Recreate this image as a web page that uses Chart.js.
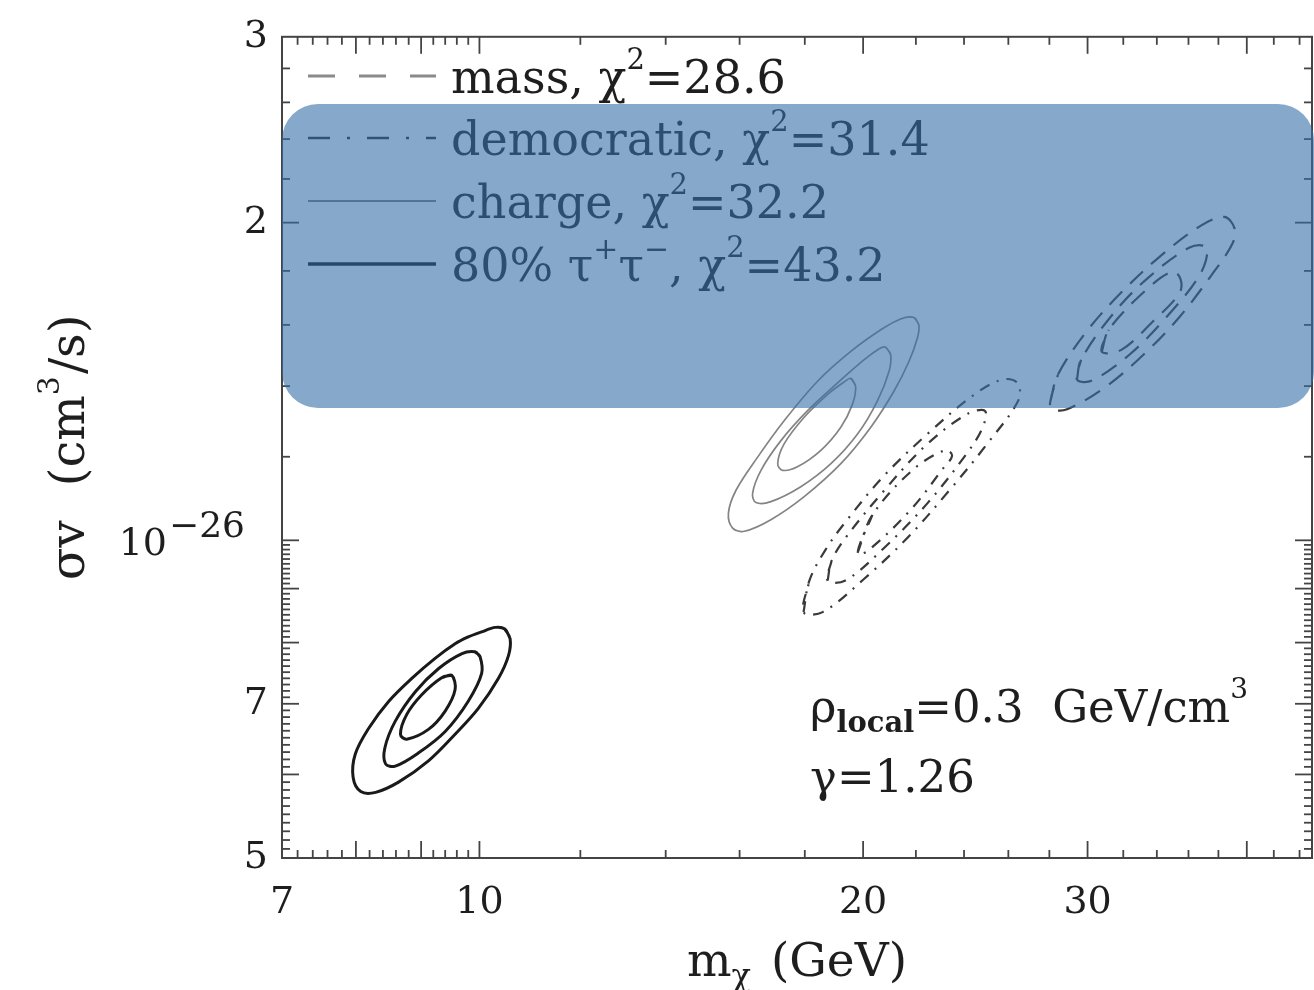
<!DOCTYPE html>
<html>
<head>
<meta charset="utf-8">
<script src="https://cdn.jsdelivr.net/npm/chart.js@4.4.1/dist/chart.umd.min.js"></script>
<style>
  html, body { margin: 0; padding: 0; background: #ffffff; }
  #wrap { width: 1314px; height: 990px; position: relative; }
</style>
</head>
<body>
<div id="wrap"><canvas id="c" width="1314" height="990"></canvas></div>
<script>
// ---------------- data (x: m_chi in GeV, y: sigma v in units of 1e-27 cm^3/s) ----------------
const Y_UNIT = 1e-27;

// 80% tau+tau- contours
const tauOuterX = [10.57,10.47,10.29,10.04,9.80,9.57,9.23,8.85,8.49,8.19,7.99,7.96,8.07,8.29,8.64,9.12,9.57,9.98,10.35,10.54];
const tauOuterY = [8.07,8.24,8.27,8.19,8.10,7.98,7.73,7.40,7.04,6.64,6.27,5.96,5.78,5.77,5.90,6.18,6.55,6.93,7.40,7.78];
const tauMidX = [10.01,9.92,9.69,9.29,8.91,8.59,8.43,8.44,8.59,8.96,9.40,9.80,10.04];
const tauMidY = [7.76,7.84,7.81,7.56,7.19,6.74,6.36,6.14,6.11,6.29,6.59,7.04,7.48];
const tauInnerX = [9.51,9.34,9.01,8.77,8.67,8.77,9.12,9.40,9.57];
const tauInnerY = [7.45,7.41,7.14,6.84,6.55,6.48,6.62,6.89,7.22];

// charge contours
const chargeOuterX = [21.93,22.12,22.06,21.73,21.15,20.28,19.21,17.98,16.93,16.14,15.80,15.68,15.90,16.53,17.34,18.42,19.56,20.65,21.40];
const chargeOuterY = [16.26,16.00,15.55,14.78,13.85,12.80,11.82,11.00,10.46,10.20,10.27,10.61,11.16,11.99,12.98,14.15,15.10,15.83,16.21];
const chargeMidX = [20.83,21.02,20.96,20.52,19.80,18.87,17.87,16.93,16.48,16.38,16.63,17.24,18.09,19.10,20.04,20.59];
const chargeMidY = [15.24,15.00,14.46,13.55,12.61,11.82,11.24,10.88,10.86,11.08,11.65,12.43,13.27,14.10,14.83,15.19];
const chargeInnerX = [19.56,19.73,19.62,19.21,18.53,17.76,17.29,17.14,17.34,17.98,18.76,19.33];
const chargeInnerY = [14.24,14.00,13.46,12.80,12.17,11.74,11.65,11.82,12.34,13.08,13.75,14.13];

// democratic contours
const demOuterX = [17.96,18.15,18.69,19.34,20.71,22.46,24.40,25.70,26.41,26.50,25.02,23.37,21.66,20.01,18.59];
const demOuterY = [8.55,9.16,9.80,10.38,11.47,12.61,13.72,14.20,14.11,13.60,12.34,11.15,10.05,9.18,8.55];
const demMidX = [18.76,18.89,19.37,20.75,22.38,24.13,24.93,24.79,24.05,22.46,20.78,19.37];
const demMidY = [9.16,9.56,10.05,11.13,12.29,13.17,13.26,12.75,12.03,10.84,9.84,9.16];
const demInnerX = [19.80,20.34,21.86,23.20,23.49,23.11,21.78,20.16];
const demInnerY = [9.73,10.57,11.65,12.18,12.03,11.70,10.68,9.77];

// mass contours
const massOuterX = [28.04,28.44,29.97,31.85,34.11,36.79,38.41,39.11,38.97,37.52,35.42,33.20,30.95,28.91,28.14];
const massOuterY = [13.52,14.36,15.79,17.15,18.53,19.86,20.25,19.77,19.10,17.83,16.28,15.00,13.96,13.31,13.31];
const massMidX = [29.43,29.65,31.45,33.50,36.07,37.19,36.79,34.60,32.37,30.24];
const massMidY = [14.20,14.83,16.42,17.75,18.94,18.94,17.90,16.28,15.00,14.17];
const massInnerX = [30.78,31.17,33.26,34.98,35.49,35.42,33.74,31.91];
const massInnerY = [15.09,15.83,17.22,17.98,17.67,17.15,16.11,15.16];

// legend entries
const legendLabels = ['mass', 'democratic', 'charge', '80% τ⁺τ⁻'];
const legendChi2 = ['28.6', '31.4', '32.2', '43.2'];

// axis ticks
const xTickValues = [7, 10, 20, 30];
const xTickLabels = ['7', '10', '20', '30'];
const xLongTicks = [8, 9, 10, 20, 30, 40];
const yTickValues = [5e-27, 7e-27, 1e-26, 2e-26, 3e-26];
const yTickLabels = ['5', '7', '10^-26', '2', '3'];
const yLongTicks = [6e-27, 7e-27, 8e-27, 9e-27, 1e-26, 2e-26];

// ---------------- helpers ----------------
const SERIF = "'DejaVu Serif', 'Liberation Serif', serif";

function minorX() {
  const t = [];
  for (let i = 36; i < 50; i++) { if (i % 5) t.push(i / 5); }        // 7.2 ... 9.8
  for (let v = 12; v <= 44; v += 2) { if (v % 10) t.push(v); }
  return t;
}
function minorY() {
  const t = [];
  for (let i = 51; i < 100; i++) { if (i % 10) t.push(i / 10 * Y_UNIT); }
  for (let v = 12; v <= 28; v += 2) { if (v % 10) t.push(v * Y_UNIT); }
  return t;
}
const xMinorTicks = minorX();
const yMinorTicks = minorY();

function closedCurve(xs, ys) {
  const pts = xs.map((x, i) => ({ x: x, y: ys[i] * Y_UNIT }));
  pts.push({ x: pts[0].x, y: pts[0].y });
  pts.push({ x: pts[1].x, y: pts[1].y });
  return pts;
}
function findLabel(vals, labels, v) {
  for (let i = 0; i < vals.length; i++) {
    if (Math.abs(vals[i] - v) / vals[i] < 1e-6) return labels[i];
  }
  return null;
}
function font(size, weight) { return (weight || 'normal') + ' ' + size + 'px ' + SERIF; }

function drawRich(ctx, x, y, segs, align) {
  let total = 0;
  segs.forEach(s => { ctx.font = font(s.size, s.weight); s.w = ctx.measureText(s.t).width; total += s.w + (s.gap || 0); });
  let cx = align === 'right' ? x - total : align === 'center' ? x - total / 2 : x;
  ctx.textAlign = 'left';
  ctx.textBaseline = 'alphabetic';
  segs.forEach(s => {
    ctx.font = font(s.size, s.weight);
    ctx.fillText(s.t, cx, y + (s.dy || 0));
    cx += s.w + (s.gap || 0);
  });
}

function ds(label, xs, ys, color, width, dash) {
  return {
    label: label,
    data: closedCurve(xs, ys),
    showLine: true,
    borderColor: color,
    borderWidth: width,
    borderDash: dash || [],
    pointRadius: 0,
    pointHoverRadius: 0,
    tension: 0.35,
    fill: false
  };
}

const TAU_C = '#1a1a1a', CHARGE_C = '#848484', DEM_C = '#3a3a3a', MASS_C = '#3a3a3a';
const DEM_DASH = [11, 8, 2, 8], MASS_DASH = [18, 11];

const datasets = [
  ds('80% tau outer', tauOuterX, tauOuterY, TAU_C, 3),
  ds('80% tau mid', tauMidX, tauMidY, TAU_C, 3),
  ds('80% tau inner', tauInnerX, tauInnerY, TAU_C, 3),
  ds('charge outer', chargeOuterX, chargeOuterY, CHARGE_C, 1.7),
  ds('charge mid', chargeMidX, chargeMidY, CHARGE_C, 1.7),
  ds('charge inner', chargeInnerX, chargeInnerY, CHARGE_C, 1.7),
  ds('democratic outer', demOuterX, demOuterY, DEM_C, 2.2, DEM_DASH),
  ds('democratic mid', demMidX, demMidY, DEM_C, 2.2, DEM_DASH),
  ds('democratic inner', demInnerX, demInnerY, DEM_C, 2.2, DEM_DASH),
  ds('mass outer', massOuterX, massOuterY, MASS_C, 2.2, MASS_DASH),
  ds('mass mid', massMidX, massMidY, MASS_C, 2.2, MASS_DASH),
  ds('mass inner', massInnerX, massInnerY, MASS_C, 2.2, MASS_DASH)
];

// rich-text pieces for a legend label (τ⁺τ⁻ drawn with real raised signs)
function labelSegs(label) {
  if (label.indexOf('τ⁺τ⁻') >= 0) {
    const pre = label.split('τ⁺τ⁻')[0];
    return [
      { t: pre + 'τ', size: 46 },
      { t: '+', size: 30, dy: -22 },
      { t: 'τ', size: 46 },
      { t: '−', size: 30, dy: -22 },
      { t: ', ', size: 46 }
    ];
  }
  return [{ t: label + ', ', size: 46 }];
}

// ---------------- decorations plugin ----------------
const decor = {
  id: 'decor',
  afterDatasetsDraw(chart) {
    const ctx = chart.ctx, a = chart.chartArea, xs = chart.scales.x, ys = chart.scales.y;
    ctx.save();
    // frame
    ctx.strokeStyle = '#444';
    ctx.lineWidth = 2;
    ctx.strokeRect(a.left, a.top, a.right - a.left, a.bottom - a.top);
    // ticks (inward, all four sides)
    ctx.lineWidth = 1.8;
    const seg = (x1, y1, x2, y2) => { ctx.beginPath(); ctx.moveTo(x1, y1); ctx.lineTo(x2, y2); ctx.stroke(); };
    const tickX = (v, len) => {
      const p = xs.getPixelForValue(v);
      if (p < a.left - 0.5 || p > a.right + 0.5) return;
      seg(p, a.bottom, p, a.bottom - len); seg(p, a.top, p, a.top + len);
    };
    const tickY = (v, len) => {
      const p = ys.getPixelForValue(v);
      if (p < a.top - 0.5 || p > a.bottom + 0.5) return;
      seg(a.left, p, a.left + len, p); seg(a.right, p, a.right - len, p);
    };
    xMinorTicks.forEach(v => tickX(v, 8));
    xLongTicks.forEach(v => tickX(v, 17));
    yMinorTicks.forEach(v => tickY(v, 8));
    yLongTicks.forEach(v => tickY(v, 17));

    ctx.fillStyle = '#1e1e1e';
    // 10^-26 tick label
    const p26 = ys.getPixelForValue(1e-26);
    drawRich(ctx, 245, p26 + 15, [
      { t: '10', size: 38, gap: 2 },
      { t: '−26', size: 36, dy: -18 }
    ], 'right');

    // legend
    const rows = [76, 138, 201, 264];
    const styles = [
      { c: '#8a8a8a', w: 3, d: [27, 24] },
      { c: '#2a2a2a', w: 2.6, d: [22, 17, 3, 17] },
      { c: '#7a7a7a', w: 2, d: [] },
      { c: '#111111', w: 3.4, d: [] }
    ];
    rows.forEach((ry, i) => {
      const s = styles[i];
      ctx.strokeStyle = s.c; ctx.lineWidth = s.w; ctx.setLineDash(s.d);
      seg(308, ry, 436, ry);
      ctx.setLineDash([]);
      drawRich(ctx, 451, ry + 17, labelSegs(legendLabels[i]).concat([
        { t: 'χ', size: 46 },
        { t: '2', size: 29, dy: -24 },
        { t: '=' + legendChi2[i], size: 46 }
      ]), 'left');
    });

    // annotation
    drawRich(ctx, 810, 722, [
      { t: 'ρ', size: 45 },
      { t: 'local', size: 29, weight: 'bold', dy: 10 },
      { t: '=0.3  GeV/cm', size: 45 },
      { t: '3', size: 28, dy: -24 }
    ], 'left');
    drawRich(ctx, 810, 792, [{ t: 'γ=1.26', size: 45 }], 'left');

    // axis titles
    drawRich(ctx, (a.left + a.right) / 2, 976, [
      { t: 'm', size: 47 },
      { t: 'χ', size: 32, dy: 10, gap: 20 },
      { t: '(GeV)', size: 47 }
    ], 'center');
    ctx.save();
    ctx.translate(84, (a.top + a.bottom) / 2);
    ctx.rotate(-Math.PI / 2);
    drawRich(ctx, 0, 0, [
      { t: 'σv', size: 48, gap: 34 },
      { t: '(cm', size: 48 },
      { t: '3', size: 30, dy: -25, gap: 2 },
      { t: '/s)', size: 48 }
    ], 'center');
    ctx.restore();
    ctx.restore();
  },
  afterDraw(chart) {
    const ctx = chart.ctx;
    const x0 = 282, y0 = 104, x1 = 1314, y1 = 408, r = 36;
    ctx.save();
    ctx.fillStyle = 'rgba(54, 112, 168, 0.6)';
    ctx.beginPath();
    ctx.moveTo(x0 + r, y0);
    ctx.lineTo(x1 - r, y0);
    ctx.arcTo(x1, y0, x1, y0 + r, r);
    ctx.lineTo(x1, y1 - r);
    ctx.arcTo(x1, y1, x1 - r, y1, r);
    ctx.lineTo(x0 + r, y1);
    ctx.arcTo(x0, y1, x0, y1 - r, r);
    ctx.lineTo(x0, y0 + r);
    ctx.arcTo(x0, y0, x0 + r, y0, r);
    ctx.closePath();
    ctx.fill();
    ctx.restore();
  }
};

// ---------------- chart ----------------
new Chart(document.getElementById('c'), {
  type: 'scatter',
  data: { datasets: datasets },
  options: {
    responsive: false,
    animation: false,
    devicePixelRatio: 1,
    layout: { padding: { top: 28, right: 2, left: 0, bottom: 0 } },
    plugins: { legend: { display: false }, tooltip: { enabled: false } },
    scales: {
      x: {
        type: 'logarithmic',
        min: 7, max: 45,
        afterFit(s) { s.height = 132; },
        afterBuildTicks(s) { s.ticks = xTickValues.map(v => ({ value: v })); },
        ticks: {
          autoSkip: false, maxRotation: 0, minRotation: 0, padding: 22,
          color: '#1e1e1e', font: { family: SERIF, size: 38 },
          callback: (v) => findLabel(xTickValues, xTickLabels, v) || ''
        },
        grid: { display: false, drawTicks: false },
        border: { display: false }
      },
      y: {
        type: 'logarithmic',
        min: 5e-27, max: 3e-26,
        afterFit(s) { s.width = 282; },
        afterBuildTicks(s) { s.ticks = yTickValues.map(v => ({ value: v })); },
        ticks: {
          autoSkip: false, padding: 14,
          color: '#1e1e1e', font: { family: SERIF, size: 38 },
          callback: (v) => { const l = findLabel(yTickValues, yTickLabels, v); return (l && l.indexOf('^') < 0) ? l : ''; }
        },
        grid: { display: false, drawTicks: false },
        border: { display: false }
      }
    }
  },
  plugins: [decor]
});
</script>
</body>
</html>
